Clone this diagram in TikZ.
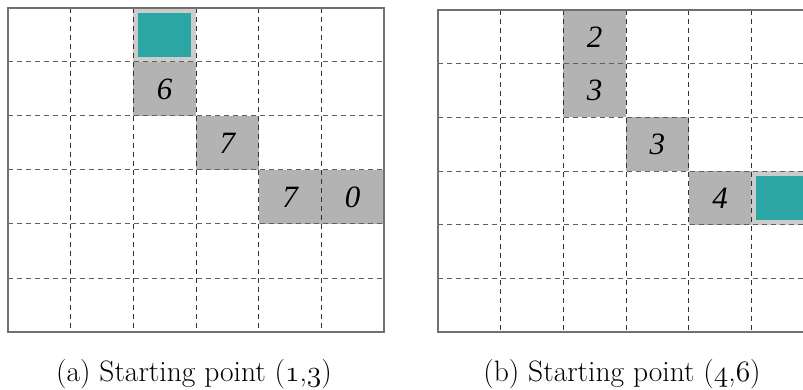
\documentclass[tikz,border=0pt]{standalone}
\usepackage{fix-cm}
\usepackage{fontspec}
\newfontfamily\cellfont{Liberation Serif}
\newcommand\osfig[1]{{\fontencoding{OML}\fontfamily{cmm}\fontseries{m}\fontshape{it}\selectfont #1}}
\definecolor{tealc}{HTML}{2CA6A4}
\definecolor{cellgray}{HTML}{B3B3B3}
\definecolor{rimgray}{HTML}{CCCCCC}
\definecolor{framec}{HTML}{707070}
\definecolor{vdash}{HTML}{333333}
\definecolor{hdash}{HTML}{606060}
\tikzset{
  cellbox/.style={fill=cellgray, minimum width=62.67pt, minimum height=54pt, inner sep=0pt,
    font=\cellfont\itshape\fontsize{31}{32}\selectfont},
  startbox/.style={fill=tealc, draw=rimgray, line width=5pt, minimum width=57.67pt, minimum height=49pt, inner sep=0pt},
  vline/.style={draw=vdash, line width=1pt, dash pattern=on 5pt off 4pt},
  hline/.style={draw=hdash, line width=1pt, dash pattern=on 5pt off 4pt},
  frame/.style={draw=framec, line width=1.3pt},
  caption/.style={anchor=base, inner sep=0pt, font=\fontsize{29.5}{32}\selectfont}
}
\begin{document}
\begin{tikzpicture}[x=1pt,y=-1pt]
\useasboundingbox (0,0) rectangle (803,390);
\clip (0,0) rectangle (803,390);
\fill[white] (0,0) rectangle (803,390);
% ---- left grid ----
\begin{scope}[shift={(8,8)}, x=62.67pt, y=-54pt]
  \node[startbox] (astart) at (2.5,0.5) {};
  \node[cellbox] (a1) at (2.5,1.5) {6};
  \node[cellbox] (a2) at (3.5,2.5) {7};
  \node[cellbox] (a3) at (4.5,3.5) {7};
  \node[cellbox] (a4) at (5.5,3.5) {0};
  \foreach \i in {1,...,5} {
    \draw[vline] (\i,0) -- (\i,6);
    \draw[hline] (0,\i) -- (6,\i);
  }
  \draw[frame] (0,0) rectangle (6,6);
\end{scope}
% ---- right grid ----
\begin{scope}[shift={(438,10)}, x=62.67pt, y=-53.67pt]
  \node[cellbox, minimum height=53.67pt] (b1) at (2.5,0.5) {2};
  \node[cellbox, minimum height=53.67pt] (b2) at (2.5,1.5) {3};
  \node[cellbox, minimum height=53.67pt] (b3) at (3.5,2.5) {3};
  \node[cellbox, minimum height=53.67pt] (b4) at (4.5,3.5) {4};
  \node[startbox, minimum height=48.67pt] (bstart) at (5.5,3.5) {};
  \foreach \i in {1,...,5} {
    \draw[vline] (\i,0) -- (\i,6);
    \draw[hline] (0,\i) -- (6,\i);
  }
  \draw[frame] (0,0) rectangle (6,6);
\end{scope}
% ---- captions ----
\node[caption] (capa) at (194,381) {(a) Starting point (\osfig{1},\osfig{3})};
\node[caption] (capb) at (622,381) {(b) Starting point (\osfig{4},\osfig{6})};
\end{tikzpicture}
\end{document}
